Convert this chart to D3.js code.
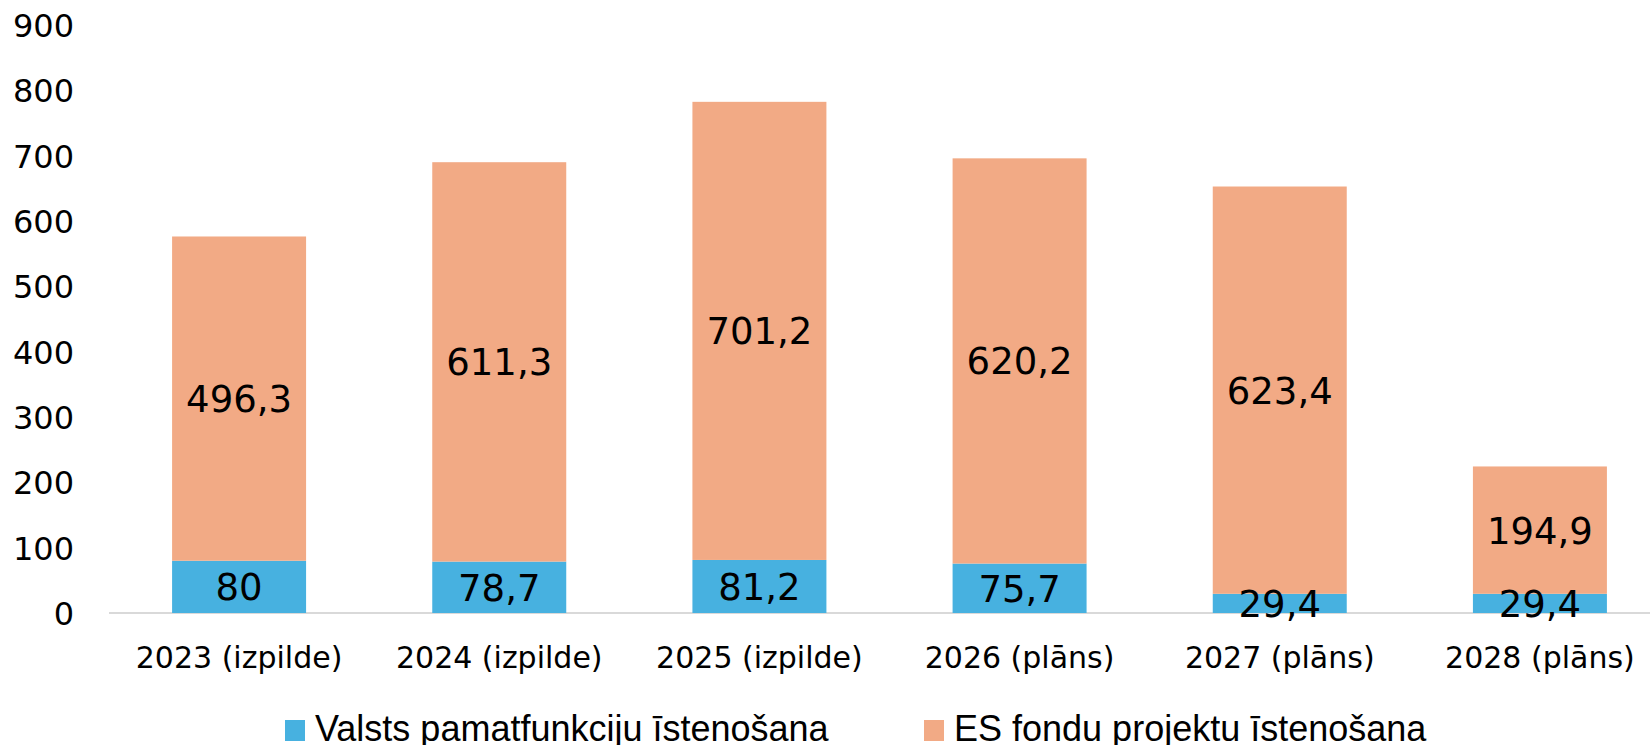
<!DOCTYPE html>
<html><head><meta charset="utf-8">
<script src="https://cdn.jsdelivr.net/npm/d3@7"></script>
<style>body{margin:0;background:#fff}svg{display:block}text{font-family:"DejaVu Sans",sans-serif;fill:#000}</style>
</head><body>
<svg id="c" width="1650" height="745"></svg>
<script>
const categories = ["2023 (izpilde)","2024 (izpilde)","2025 (izpilde)","2026 (plāns)","2027 (plāns)","2028 (plāns)"];
const stateValues = [80, 78.7, 81.2, 75.7, 29.4, 29.4];
const euValues = [496.3, 611.3, 701.2, 620.2, 623.4, 194.9];
const yTicks = [0,100,200,300,400,500,600,700,800,900];
const seriesNames = ["Valsts pamatfunkciju īstenošana","ES fondu projektu īstenošana"];
const colors = ["#47B1E0","#F2AA85"];

const svg = d3.select("#c");
const x = d3.scaleBand().domain(categories).range([109, 1670]).paddingInner(0.485).paddingOuter(0.2425);
const y = d3.scaleLinear().domain([0, 900]).range([613, 25]);
const fmt = v => String(v).replace(".", ",");
const FONT = '"DejaVu Sans",sans-serif';

// baseline
svg.append("line").attr("x1", 109).attr("x2", 1650).attr("y1", y(0)).attr("y2", y(0))
  .attr("stroke", "#d9d9d9").attr("stroke-width", 2);

// y axis labels
const yAxis = d3.axisLeft(y).tickValues(yTicks).tickSize(0).tickPadding(0);
const ya = svg.append("g").attr("transform", "translate(74,0)").call(yAxis);
ya.select(".domain").remove();
ya.selectAll("text").attr("font-size", 32).attr("dy", "0.36em").style("font-family", FONT).attr("fill", "#000");

// x axis labels
const xAxis = d3.axisBottom(x).tickSize(0).tickPadding(0);
const xa = svg.append("g").attr("transform", "translate(0,668)").call(xAxis);
xa.select(".domain").remove();
xa.selectAll("text").attr("font-size", 30).attr("dy", "0").style("font-family", FONT).attr("fill", "#000");

const data = categories.map((c, i) => ({cat: c, a: stateValues[i], b: euValues[i]}));
const stack = d3.stack().keys(["a", "b"])(data);

stack.forEach((s, si) => {
  svg.append("g").selectAll("rect").data(s).join("rect")
    .attr("x", d => x(d.data.cat)).attr("width", x.bandwidth())
    .attr("y", d => y(d[1])).attr("height", d => y(d[0]) - y(d[1]))
    .attr("fill", colors[si]);
});
stack.forEach((s, si) => {
  svg.append("g").selectAll("text").data(s).join("text")
    .attr("x", d => x(d.data.cat) + x.bandwidth() / 2)
    .attr("y", d => (y(d[0]) + y(d[1])) / 2)
    .attr("dy", "0.365em").attr("text-anchor", "middle").attr("font-size", 37)
    .text(d => fmt(+(d[1] - d[0]).toFixed(1)));
});

// legend
const legendX = [285, 924];
seriesNames.forEach((n, i) => {
  svg.append("rect").attr("x", legendX[i]).attr("y", 720).attr("width", 20).attr("height", 21).attr("fill", colors[i]);
  svg.append("text").attr("x", legendX[i] + 30).attr("y", 741)
    .style("font-family", '"Liberation Sans",Arial,sans-serif').attr("font-size", 36).text(n);
});
</script>
</body></html>
